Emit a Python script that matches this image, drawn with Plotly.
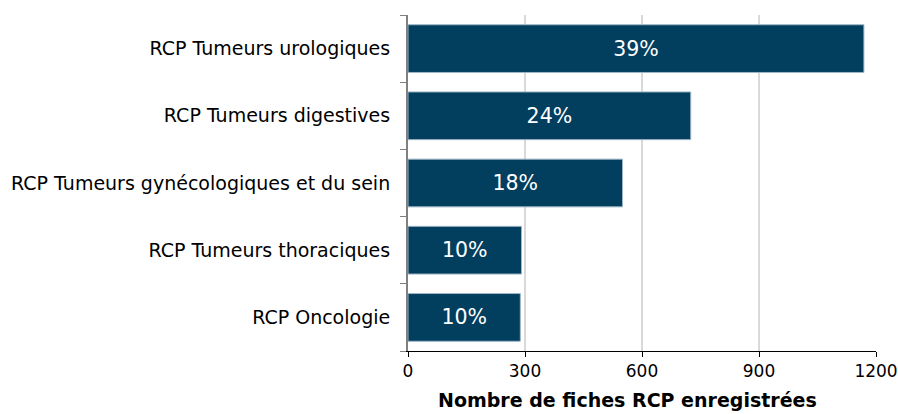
import plotly.graph_objects as go

categories = ["RCP Oncologie", "RCP Tumeurs thoraciques", "RCP Tumeurs gynécologiques et du sein",
              "RCP Tumeurs digestives", "RCP Tumeurs urologiques"]
values = [288, 291, 550, 725, 1169]
pct_labels = ["10%", "10%", "18%", "24%", "39%"]
x_ticks = [0, 300, 600, 900, 1200]
x_title = "Nombre de fiches RCP enregistrées"

font_family = "DejaVu Sans"

fig = go.Figure(go.Bar(
    y=categories, x=values, orientation="h",
    text=pct_labels, textposition="inside", insidetextanchor="middle",
    textfont=dict(color="white", size=20.5, family=font_family),
    marker=dict(color="#023e5e", line=dict(color="#9fb6c6", width=1)),
    width=0.71,
))

fig.add_annotation(
    text="<b>" + x_title + "</b>", xref="paper", yref="paper",
    x=0.469, y=0, xanchor="center", yanchor="middle", yshift=-49,
    showarrow=False, font=dict(size=19, family=font_family, color="black"),
)

fig.update_layout(
    width=898, height=414,
    margin=dict(l=408, r=22, t=15, b=63),
    paper_bgcolor="white", plot_bgcolor="white",
    showlegend=False,
    font=dict(family=font_family, color="black", size=17),
    xaxis=dict(
        range=[0, 1200], tickvals=x_ticks, ticktext=[str(v) for v in x_ticks],
        showgrid=True, gridcolor="#d9d9d9", gridwidth=2,
        showline=True, linecolor="#000000", linewidth=1,
        ticks="outside", ticklen=5, tickcolor="#000000",
        tickfont=dict(size=17), ticklabeloverflow="allow",
        zeroline=False, automargin=False,
    ),
    yaxis=dict(
        showline=True, linecolor="#808080", linewidth=2,
        ticks="outside", ticklen=6, tickcolor="#808080", tickson="boundaries",
        tickfont=dict(size=19), ticklabelstandoff=12,
        showgrid=False, automargin=False,
    ),
)

fig.write_html("out.html", config={"displayModeBar": False},
               post_script="document.body.style.margin='0';document.body.style.overflow='hidden';")
